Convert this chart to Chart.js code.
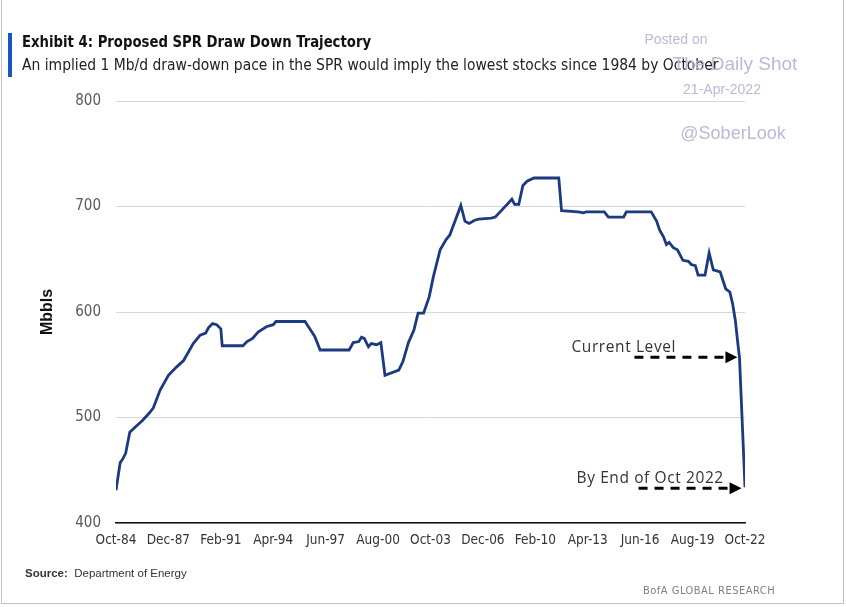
<!DOCTYPE html>
<html lang="en">
<head>
    <meta charset="UTF-8">
    <title>Proposed SPR Draw Down Trajectory</title>
    <script src="https://cdn.jsdelivr.net/npm/chart.js"></script>
    <style>
        body {
            margin: 0;
            background: #ffffff;
            font-family: "Liberation Sans", Arial, sans-serif;
        }
        .page {
            position: relative;
            width: 846px;
            height: 607px;
            overflow: hidden;
        }
        .frame {
            position: absolute;
            left: 1px;
            top: -2px;
            width: 841px;
            height: 604px;
            border: 1px solid #c4c4c4;
        }
        canvas { position: absolute; left: 0; top: 0; }
        .bar {
            position: absolute;
            left: 8px; top: 33px;
            width: 4px; height: 44px;
            background: #1a55c4;
        }
        .title {
            position: absolute;
            left: 22px; top: 32px;
            font-family: "DejaVu Sans Condensed", sans-serif;
            font-weight: bold;
            font-size: 16px;
            color: #111;
            white-space: nowrap;
            transform-origin: left top;
            transform: scaleX(0.92);
        }
        .subtitle {
            position: absolute;
            left: 22px; top: 56px;
            font-family: "DejaVu Sans Condensed", sans-serif;
            font-size: 15px;
            color: #222;
            white-space: nowrap;
            transform-origin: left top;
            transform: scaleX(1.03);
        }
        .wm {
            position: absolute;
            color: #b9b9d8;
            font-family: "Liberation Sans", Arial, sans-serif;
            white-space: nowrap;
            transform: translateX(-50%);
        }
        .source {
            position: absolute;
            left: 25px; top: 567px;
            font-family: "Liberation Sans", sans-serif;
            font-size: 11.5px;
            color: #333;
        }
        .bofa {
            position: absolute;
            left: 643px; top: 584px;
            font-family: "DejaVu Sans Condensed", sans-serif;
            font-size: 11px;
            color: #808080;
            letter-spacing: 0.5px;
        }
    </style>
</head>
<body>
<div class="page">
    <canvas id="sprChart" width="846" height="607"></canvas>
    <div class="frame"></div>
    <div class="bar"></div>
    <div class="title">Exhibit 4: Proposed SPR Draw Down Trajectory</div>
    <div class="subtitle">An implied 1 Mb/d draw-down pace in the SPR would imply the lowest stocks since 1984 by October</div>
    <div class="wm" style="left:676px; top:31px; font-size:14px;">Posted on</div>
    <div class="wm" style="left:735px; top:53px; font-size:19px;">The Daily Shot</div>
    <div class="wm" style="left:722px; top:81px; font-size:14px;">21-Apr-2022</div>
    <div class="wm" style="left:733px; top:123px; font-size:18px;">@SoberLook</div>
    <div class="source"><b>Source:</b>&nbsp; Department of Energy</div>
    <div class="bofa">BofA GLOBAL RESEARCH</div>
</div>
<script>
    // months counted from Oct-1984
    const months = [0, 3, 5, 7, 10, 14, 19, 24, 27, 32, 38, 44, 49, 56, 61, 65, 67, 70, 73, 76,
        77, 92, 95, 99, 103, 109, 114, 116, 137, 140, 144, 148, 169, 172, 176, 178, 180, 183, 185, 189,
        192, 195, 205, 208, 212, 216, 219, 223, 227, 230, 235, 239, 242, 246, 250, 253, 256, 260, 263, 272,
        275, 280, 285, 287, 289, 292, 295, 298, 303, 321, 323, 335, 339, 341, 354, 357, 368, 370, 388, 392,
        394, 397, 399, 401, 404, 407, 411, 415, 417, 420, 422, 427, 430, 433, 438, 442, 445, 447, 449, 451,
        452, 456];
    // SPR stocks, Mbbls
    const stocks = [431, 457, 461, 466, 486, 491, 497, 504, 509, 526, 540, 548, 554, 570, 578, 580, 585, 589, 588, 584,
        568, 568, 572, 575, 581, 586, 588, 591, 591, 585, 577, 564, 564, 571, 572, 576, 575, 567, 570, 569,
        571, 540, 545, 553, 571, 583, 599, 599, 614, 633, 659, 668, 673, 687, 701, 686, 684, 687, 688, 689,
        690, 697, 704, 707, 702, 702, 720, 724, 727, 727, 696, 695, 694, 695, 695, 690, 690, 695, 695, 686,
        678, 671, 664, 666, 661, 659, 649, 648, 645, 644, 635, 635, 656, 640, 638, 622, 619, 608, 592, 568,
        557, 434];
    const tickLabels = ['Oct-84', 'Dec-87', 'Feb-91', 'Apr-94', 'Jun-97', 'Aug-00', 'Oct-03',
        'Dec-06', 'Feb-10', 'Apr-13', 'Jun-16', 'Aug-19', 'Oct-22'];
    const tickStep = 38;

    // annotation arrows: [label, month of tip, level of tip, text offset]
    const notes = [
        ['Current Level', 450.5, 557, 166],
        ['By End of Oct 2022', 453.5, 433, 165]
    ];

    const arrowPlugin = {
        id: 'arrows',
        afterDatasetsDraw(chart) {
            const { ctx, scales: { x, y } } = chart;
            ctx.save();
            notes.forEach(([text, m, v, off]) => {
                const tx = x.getPixelForValue(m);
                const ty = y.getPixelForValue(v);
                const len = 103;
                ctx.strokeStyle = '#000';
                ctx.fillStyle = '#000';
                ctx.lineWidth = 3;
                ctx.setLineDash([9, 7]);
                ctx.beginPath();
                ctx.moveTo(tx - len, ty);
                ctx.lineTo(tx - 10, ty);
                ctx.stroke();
                ctx.setLineDash([]);
                ctx.beginPath();
                ctx.moveTo(tx, ty);
                ctx.lineTo(tx - 12, ty - 6);
                ctx.lineTo(tx - 12, ty + 6);
                ctx.closePath();
                ctx.fill();
                ctx.font = '15.5px "Open Sans", sans-serif';
                ctx.letterSpacing = '0.6px';
                ctx.fillStyle = '#333';
                ctx.textBaseline = 'alphabetic';
                ctx.fillText(text, tx - off, ty - 5);
            });
            ctx.restore();
        }
    };

    const ctx = document.getElementById('sprChart').getContext('2d');
    new Chart(ctx, {
        type: 'line',
        data: {
            datasets: [{
                data: months.map((m, i) => ({ x: m, y: stocks[i] })),
                borderColor: '#1c3a7e',
                borderWidth: 2.8,
                pointRadius: 0,
                tension: 0,
                fill: false
            }]
        },
        options: {
            responsive: false,
            animation: false,
            devicePixelRatio: 1,
            layout: { padding: { left: 38, top: 101, right: 101, bottom: 54 } },
            plugins: { legend: { display: false }, tooltip: { enabled: false } },
            scales: {
                x: {
                    type: 'linear',
                    min: 0,
                    max: tickStep * (tickLabels.length - 1),
                    afterFit: s => { s.height = 30; },
                    afterBuildTicks: s => {
                        s.ticks = tickLabels.map((_, i) => ({ value: i * tickStep }));
                    },
                    grid: { display: false, drawTicks: false },
                    border: { color: '#111', width: 1.5 },
                    ticks: {
                        autoSkip: false,
                        maxRotation: 0,
                        padding: 9,
                        color: '#333',
                        font: { family: '"DejaVu Sans Condensed", sans-serif', size: 13.5 },
                        callback: v => tickLabels[Math.round(v / tickStep)]
                    }
                },
                y: {
                    min: 400,
                    max: 800,
                    afterFit: s => { s.width = 78; },
                    grid: { color: '#d6d6d6', lineWidth: 1, drawTicks: false },
                    border: { display: false },
                    ticks: {
                        stepSize: 100,
                        padding: 15,
                        color: '#5a5a5a',
                        font: { family: '"DejaVu Sans Condensed", sans-serif', size: 15 }
                    },
                    title: {
                        display: true,
                        text: 'Mbbls',
                        color: '#111',
                        padding: { top: 0, bottom: 0 },
                        font: { family: '"Liberation Sans", sans-serif', size: 16, weight: 'bold' }
                    }
                }
            }
        },
        plugins: [arrowPlugin]
    });
</script>
</body>
</html>
